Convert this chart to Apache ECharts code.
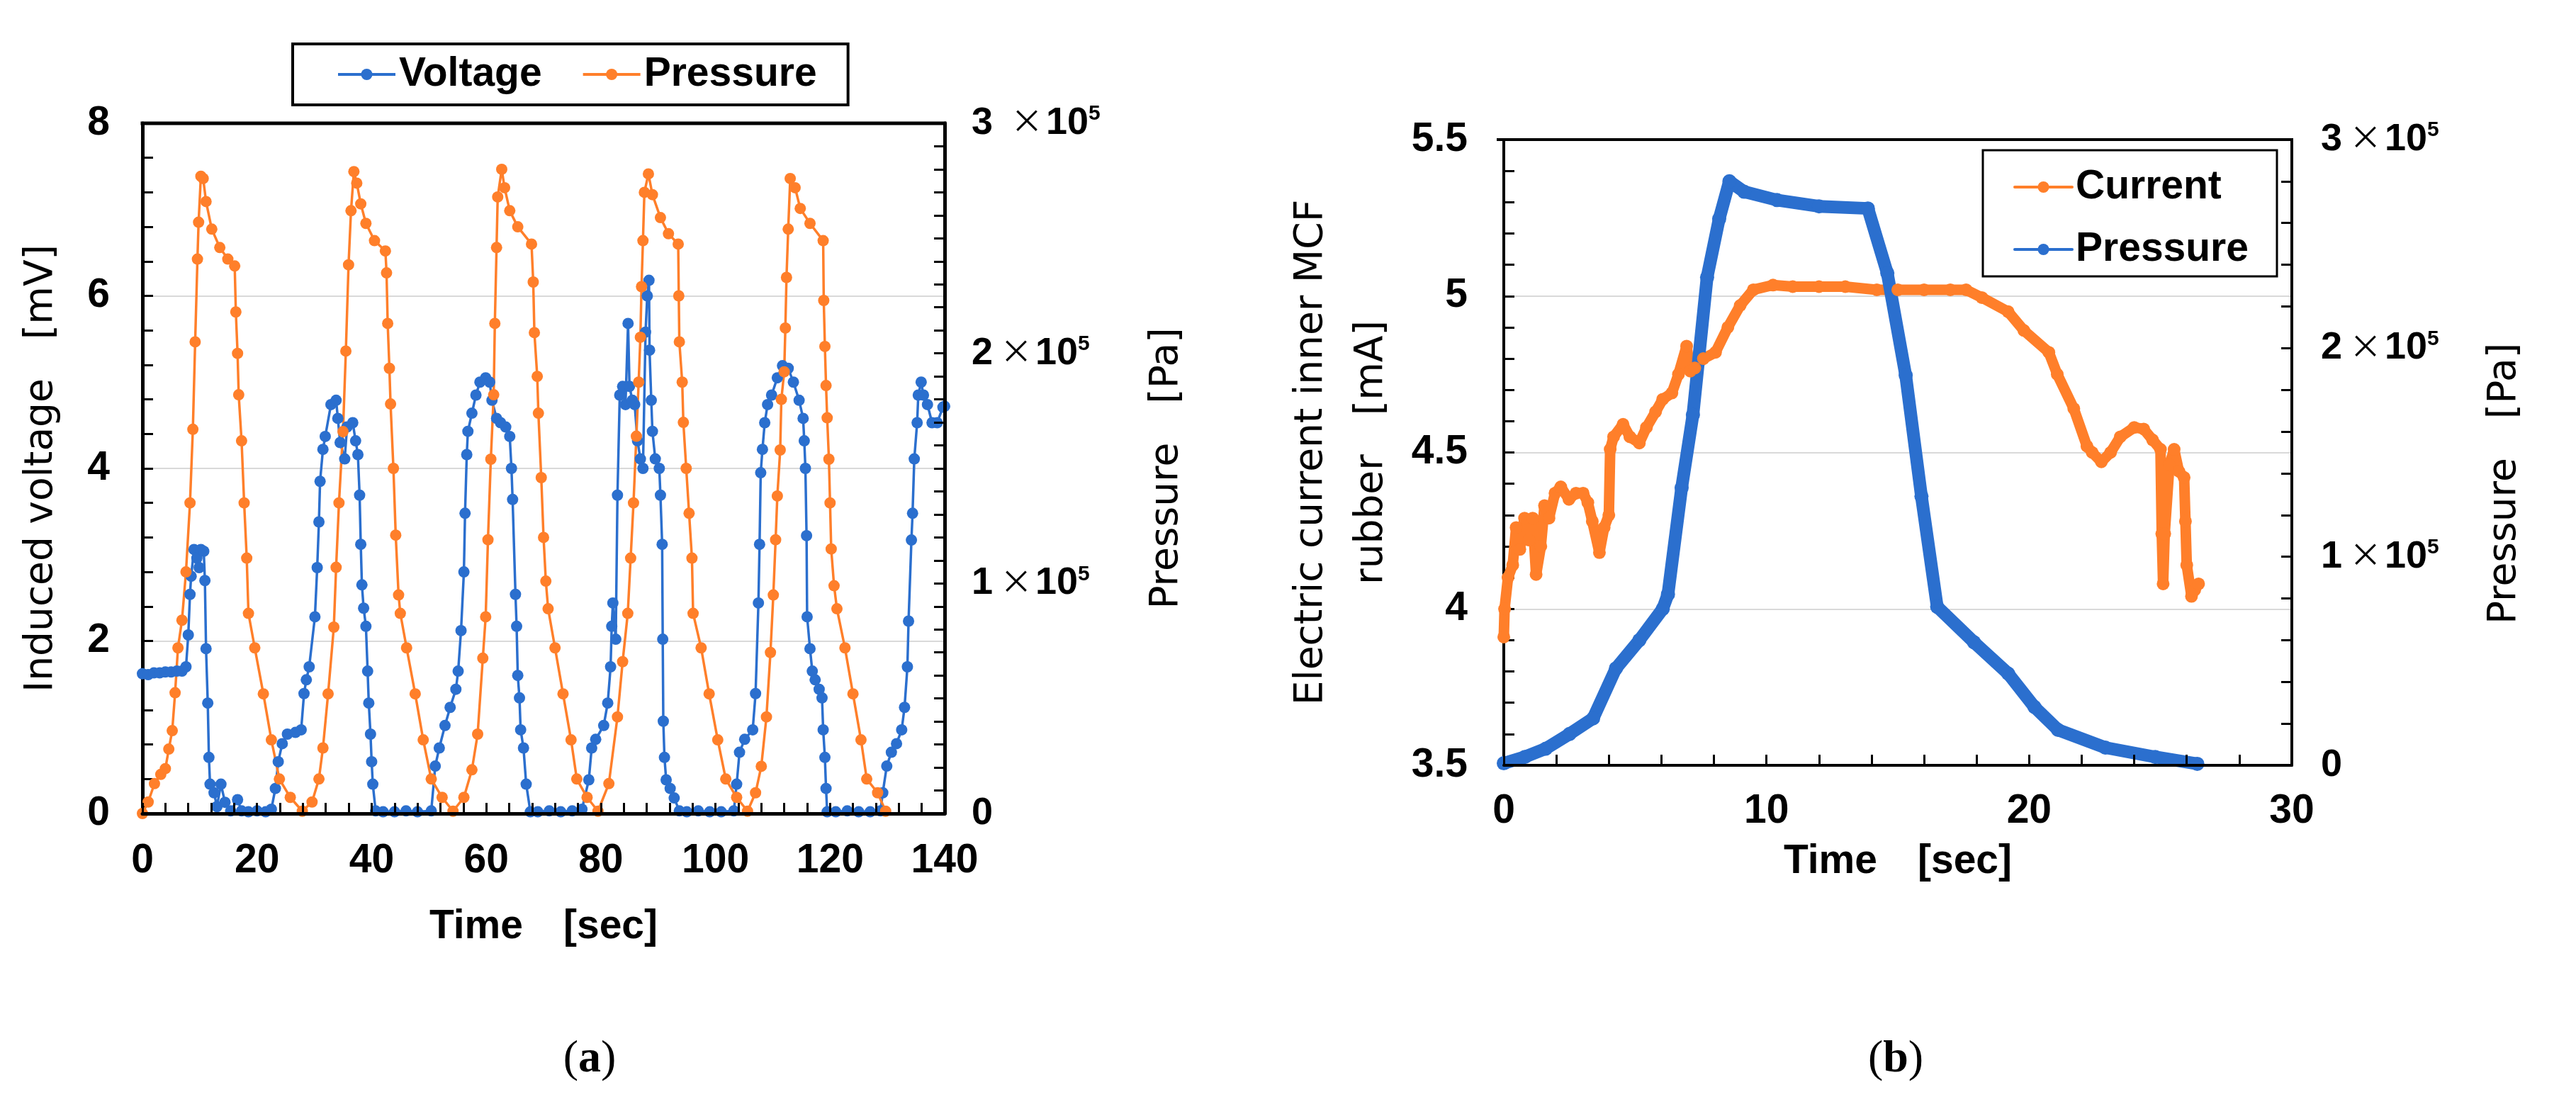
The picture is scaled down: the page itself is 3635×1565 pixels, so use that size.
<!DOCTYPE html>
<html>
<head>
<meta charset="utf-8">
<script src="https://cdn.jsdelivr.net/npm/echarts@6/dist/echarts.min.js"></script>
<style>
html,body{margin:0;padding:0;background:#fff;}
#wrap{position:relative;width:3635px;height:1565px;background:#fff;}
#ca{position:absolute;left:0;top:0;width:1800px;height:1565px;}
#cb{position:absolute;left:1800px;top:0;width:1835px;height:1565px;}
</style>
</head>
<body>
<div id="wrap"><div id="ca"></div><div id="cb"></div></div>
<script>
// ---------- Panel (a) data: [time s, value] ----------
const voltageA = [
[0,1.62],[1,1.61],[2,1.63],[3,1.63],[4,1.64],[5,1.64],[6,1.65],[6.9,1.65],[7.6,1.70],[8.0,2.07],[8.3,2.54],[8.5,2.75],[9.0,3.06],[9.5,2.96],[9.9,2.85],[10.2,3.06],[10.7,3.04],[10.9,2.7],[11.1,1.91],[11.4,1.28],[11.6,0.65],[11.8,0.34],[12.5,0.24],[13,0.08],[13.7,0.34],[14.4,0.13],[15.4,0.03],[16.6,0.16],[17.3,0.03],[18.5,0.02],[20,0.03],[21.5,0.02],[22.5,0.05],
[23.2,0.29],[23.7,0.6],[24.4,0.81],[25.3,0.92],[26.7,0.94],[27.7,0.97],[28.2,1.39],[28.6,1.55],[29.1,1.7],[30.1,2.28],[30.5,2.85],[30.8,3.38],[31.0,3.85],[31.5,4.22],[31.9,4.37],[32.9,4.74],[33.8,4.79],[34.1,4.58],[34.5,4.3],[35.3,4.11],[35.7,4.48],[36.7,4.53],[37.2,4.32],[37.6,4.16],[37.9,3.69],[38.1,3.12],[38.3,2.65],[38.6,2.38],[39.0,2.17],[39.3,1.65],[39.5,1.28],[39.8,0.92],[40.0,0.6],[40.2,0.34],[40.7,0.03],[42,0.02],[44,0.02],[46,0.03],[48,0.02],[50.4,0.03],
[51.1,0.55],[51.8,0.76],[52.8,1.02],[53.7,1.23],[54.7,1.44],[55.1,1.65],[55.6,2.12],[56.1,2.8],[56.3,3.48],[56.6,4.16],[56.8,4.43],[57.5,4.64],[58.2,4.85],[58.9,5.0],[59.9,5.05],[60.6,5.0],[61.0,4.79],[61.8,4.58],[62.5,4.53],[63.4,4.48],[64.1,4.37],[64.4,4.0],[64.6,3.64],[65.1,2.54],[65.3,2.17],[65.5,1.6],[65.8,1.34],[66.0,0.97],[66.5,0.76],[66.97,0.34],[67.7,0.02],[69,0.02],[71,0.03],[73,0.02],[75,0.03],[76.7,0.05],
[77.9,0.39],[78.4,0.76],[79.1,0.86],[80.5,1.02],[81.2,1.28],[81.7,1.7],[81.9,2.17],[82.1,2.44],[82.6,2.02],[82.9,3.69],[83.3,4.85],[83.8,4.95],[84.3,4.74],[84.75,5.68],[85.0,4.95],[85.5,4.79],[85.9,4.74],[86.4,4.32],[86.9,4.11],[87.35,4.0],[87.8,5.58],[88.1,6.0],[88.4,6.18],[88.5,5.37],[88.8,4.79],[89.0,4.43],[89.5,4.11],[90.2,4.0],[90.4,3.69],[90.7,3.12],[90.8,2.02],[90.9,1.07],[91.1,0.65],[91.4,0.39],[92.1,0.29],[92.8,0.18],[93.7,0.03],[95,0.02],[97,0.03],[99,0.02],[101,0.02],[103.2,0.03],
[103.7,0.34],[104.2,0.71],[105.1,0.86],[106.5,0.97],[107,1.39],[107.5,2.44],[107.7,3.12],[107.9,3.95],[108.2,4.22],[108.6,4.53],[109.1,4.74],[109.8,4.85],[110.8,5.05],[111.7,5.19],[112.7,5.16],[113.6,5.0],[114.6,4.79],[115.3,4.58],[115.5,4.32],[115.7,4.0],[115.9,3.22],[116.0,2.28],[116.5,1.91],[116.9,1.65],[117.4,1.55],[118.1,1.44],[118.6,1.34],[118.8,0.97],[119.1,0.65],[119.3,0.29],[119.5,0.02],[121,0.02],[123,0.03],[125,0.02],[127,0.02],[128.8,0.03],
[129.2,0.24],[129.9,0.55],[130.7,0.71],[131.6,0.81],[132.5,0.97],[133,1.23],[133.5,1.7],[133.7,2.23],[134.2,3.17],[134.4,3.48],[134.7,4.11],[135.2,4.53],[135.4,4.85],[135.9,5.0],[136.3,4.85],[137.0,4.74],[137.8,4.53],[138.7,4.53],[139.7,4.71],[140,4.72]
];
// pressure in units of 1e5 Pa
const pressureA = [
[0,0],[1.0,0.05],[2.1,0.13],[3.2,0.17],[4.0,0.195],[4.6,0.28],[5.2,0.36],[5.7,0.525],[6.2,0.72],[6.9,0.84],[7.6,1.05],[8.3,1.35],[8.8,1.67],[9.2,2.05],[9.6,2.41],[9.8,2.57],[10.2,2.77],[10.6,2.76],[11.1,2.66],[12.1,2.54],[13.5,2.46],[14.9,2.41],[16.1,2.38],[16.3,2.18],[16.6,2.0],[16.8,1.82],[17.3,1.62],[17.75,1.35],[18.2,1.11],[18.5,0.87],[19.6,0.72],[21.1,0.52],[22.5,0.32],[23.9,0.15],[25.8,0.07],[27.9,0.01],
[29.6,0.05],[30.8,0.15],[31.5,0.285],[32.4,0.52],[33.4,0.81],[33.8,1.07],[34.3,1.35],[35.0,1.66],[35.5,2.01],[35.97,2.385],[36.4,2.62],[36.9,2.79],[37.4,2.74],[38.1,2.65],[39.0,2.565],[40.5,2.49],[42.4,2.445],[42.6,2.35],[42.8,2.13],[43.1,1.935],[43.3,1.78],[43.8,1.5],[44.2,1.21],[44.7,0.95],[45.0,0.87],[46.1,0.72],[47.6,0.52],[49.0,0.32],[50.4,0.15],[52.3,0.07],[54.2,0.01],
[56.1,0.07],[57.5,0.19],[58.5,0.345],[59.4,0.675],[59.9,0.855],[60.3,1.19],[60.8,1.54],[61.3,1.82],[61.5,2.13],[61.8,2.46],[62.0,2.68],[62.7,2.80],[63.2,2.72],[64.1,2.62],[65.5,2.55],[67.9,2.475],[68.2,2.31],[68.4,2.09],[68.9,1.90],[69.1,1.74],[69.6,1.46],[70.0,1.2],[70.4,1.01],[70.8,0.89],[72,0.72],[73.4,0.52],[74.8,0.32],[75.8,0.15],[77.6,0.07],[79.5,0.01],
[81.4,0.13],[82.9,0.42],[83.8,0.66],[84.7,0.87],[85.2,1.11],[85.7,1.35],[86.2,1.64],[86.6,1.875],[86.9,2.07],[87.1,2.29],[87.35,2.49],[87.6,2.70],[88.3,2.78],[89.0,2.69],[90.4,2.59],[91.8,2.52],[93.5,2.475],[93.6,2.25],[93.7,2.05],[94.2,1.875],[94.4,1.70],[94.9,1.5],[95.4,1.305],[95.9,1.11],[96.1,0.87],[97.5,0.72],[98.9,0.52],[100.4,0.32],[101.8,0.15],[103.7,0.07],[105.6,0.01],
[107,0.09],[108,0.205],[108.9,0.42],[109.6,0.70],[110.1,0.95],[110.5,1.19],[110.8,1.38],[111.3,1.58],[111.5,1.80],[112,1.92],[112.2,2.11],[112.4,2.33],[112.7,2.54],[113.05,2.76],[113.9,2.72],[114.8,2.63],[116.5,2.565],[118.8,2.49],[118.9,2.23],[119.1,2.03],[119.3,1.86],[119.5,1.72],[119.8,1.54],[120,1.35],[120.2,1.15],[120.7,0.99],[121.2,0.89],[122.6,0.72],[124.0,0.52],[125.4,0.32],[126.4,0.15],[128.3,0.09],[129.7,0.01]
];
// ---------- Panel (b) data ----------
const currentB = [
[0,3.91],[0.03,4.0],[0.16,4.1],[0.34,4.14],[0.47,4.26],[0.61,4.19],[0.79,4.29],[0.96,4.22],[1.1,4.29],[1.23,4.11],[1.41,4.2],[1.55,4.33],[1.72,4.29],[1.95,4.37],[2.17,4.39],[2.48,4.35],[2.75,4.37],[3.02,4.37],[3.2,4.34],[3.37,4.28],[3.64,4.18],[3.82,4.26],[4.0,4.3],[4.05,4.51],[4.18,4.55],[4.54,4.59],[4.8,4.55],[5.16,4.53],[5.43,4.58],[5.78,4.63],[6.05,4.67],[6.4,4.69],[6.65,4.75],[6.96,4.84],[7.1,4.76],[7.27,4.77],[7.6,4.8],[8.06,4.82],[8.53,4.9],[9.0,4.97],[9.5,5.02],[10.25,5.035],[11,5.03],[12,5.03],[13,5.03],[14.2,5.02],[15,5.02],[16,5.02],[17,5.02],[17.6,5.02],[18.2,4.995],[19.2,4.95],[19.8,4.89],[20.75,4.82],[21.07,4.75],[21.7,4.64],[22.2,4.52],[22.4,4.5],[22.75,4.47],[23.1,4.5],[23.47,4.55],[24.0,4.58],[24.36,4.575],[24.7,4.54],[25.0,4.51],[25.05,4.24],[25.1,4.08],[25.16,4.24],[25.34,4.46],[25.52,4.51],[25.7,4.44],[25.9,4.42],[25.95,4.28],[26.0,4.14],[26.18,4.04],[26.3,4.06],[26.45,4.08]
];
// pressure in units of 1e5 Pa
const pressureB = [
[0,0.01],[0.8,0.04],[1.6,0.08],[2.5,0.15],[3.4,0.225],[4.27,0.465],[5.16,0.6],[6.05,0.75],[6.25,0.82],[6.77,1.33],[7.2,1.68],[7.74,2.34],[8.2,2.62],[8.59,2.8],[9.15,2.75],[10.4,2.71],[12,2.68],[13.86,2.67],[14.6,2.36],[15.3,1.87],[15.9,1.29],[16.5,0.76],[17.9,0.59],[19.2,0.44],[20.2,0.28],[21.1,0.17],[22.9,0.085],[24.8,0.04],[26.4,0.007]
];
const ticksA = {x:[0,140,20], yL:[0,8,2], yR:[0,3,1]};
const ticksB = {x:[0,30,10], yL:[3.5,5.5,0.5], yR:[0,3,1]};

const BLUE = '#2b6fce', ORANGE = '#ff7f2a';
const NUMF = "'Liberation Sans', Arial, sans-serif";
const NAMEF = "'DejaVu Sans', 'Liberation Sans', sans-serif";
const CJK = "'Noto Sans CJK JP', sans-serif";
const GRID_A = {left:201,top:174,width:1132,height:974};
const GRID_B = {left:314,top:197,width:1120,height:883};

function richPow(){
  return {
    n:{fontSize:54,fontWeight:'bold',fontFamily:NUMF,color:'#000'},
    x:{fontSize:46,fontWeight:'normal',fontFamily:CJK,color:'#000',padding:[0,4,8,10]},
    s:{fontSize:30,fontWeight:'bold',fontFamily:NUMF,color:'#000',padding:[0,0,26,0]}
  };
}
function powFmt(spaceFor3){
  return function(v){
    if (v === 0) return '{n|0}';
    return '{n|' + v + (spaceFor3 && v===3 ? ' ' : '') + '}{x|×}{n|10}{s|5}';
  };
}
function tickStyle(){ return {show:true,inside:true,length:15,lineStyle:{color:'#000',width:3}}; }
function minor(n){ return {show:true,splitNumber:n,length:15,lineStyle:{color:'#000',width:3}}; }
const numLabel = (m)=>({margin:m,fontSize:57,fontWeight:'bold',fontFamily:NUMF,color:'#000'});
const nameStyle = {fontSize:55,fontFamily:NAMEF,color:'#000',fontWeight:'normal'};
const boldName = {fontSize:57,fontFamily:NUMF,color:'#000',fontWeight:'bold'};

function labelGraphic(x, letter){
  return {type:'text',x:x,y:1495,style:{text:'{p|(}{b|'+letter+'}{p|)}',align:'center',verticalAlign:'middle',
    rich:{p:{fontSize:64,fontFamily:"'Liberation Serif', serif",color:'#000'},b:{fontSize:64,fontWeight:'bold',fontFamily:"'Liberation Serif', serif",color:'#000'}}}};
}
// top edge of the plot frame (filled bar along the grid's top edge)
function topBar(g, w){
  return {type:'rect',z:100,silent:true,
    shape:{x:g.left - w/2, y:g.top - w/2, width:g.width + w, height:w},
    style:{fill:'#000'}};
}

// ---------------- Chart A ----------------
const ca = echarts.init(document.getElementById('ca'), null, {renderer:'canvas'});
ca.setOption({
  backgroundColor:'#fff',
  animation:false,
  grid:Object.assign({show:false},GRID_A),
  legend:{
    left:413, top:62, orient:'horizontal',
    padding:[13,44,13,62], itemGap:56, itemWidth:81, itemHeight:20,
    borderColor:'#000', borderWidth:4, backgroundColor:'#fff',
    lineStyle:{width:4},
    textStyle:{fontSize:57,fontWeight:'bold',fontFamily:NUMF,color:'#000',lineHeight:60},
    data:['Voltage','Pressure']
  },
  xAxis:{type:'value',min:ticksA.x[0],max:ticksA.x[1],interval:ticksA.x[2],z:20,
    axisLine:{show:true,onZero:false,lineStyle:{color:'#000',width:5}},
    axisTick:tickStyle(), minorTick:minor(5), splitLine:{show:false},
    axisLabel:numLabel(39),
    name:'Time\u3000[sec]', nameLocation:'middle', nameGap:132, nameTextStyle:boldName},
  yAxis:[
    {type:'value',min:ticksA.yL[0],max:ticksA.yL[1],interval:ticksA.yL[2],position:'left',
     axisLine:{show:true,onZero:false,lineStyle:{color:'#000',width:5}},
     axisTick:tickStyle(), minorTick:minor(5),
     splitLine:{show:true,lineStyle:{color:'#d9d9d9',width:2}},
     axisLabel:numLabel(46),
     name:'Induced voltage\u3000[mV]', nameLocation:'middle', nameGap:115, nameTextStyle:nameStyle},
    {type:'value',min:ticksA.yR[0],max:ticksA.yR[1],interval:ticksA.yR[2],position:'right',z:20,
     axisLine:{show:true,onZero:false,lineStyle:{color:'#000',width:5}},
     axisTick:tickStyle(), minorTick:minor(10), splitLine:{show:false},
     axisLabel:{margin:38,formatter:powFmt(true),rich:richPow(),align:'left'},
     name:'Pressure\u3000[Pa]', nameLocation:'middle', nameGap:286, nameTextStyle:nameStyle}
  ],
  graphic:{elements:[labelGraphic(832,'a'), topBar(GRID_A,5)]},
  series:[
    {name:'Voltage',type:'line',xAxisIndex:0,yAxisIndex:0,data:voltageA,
     symbol:'circle',symbolSize:16,showAllSymbol:true,
     lineStyle:{color:BLUE,width:3.5},itemStyle:{color:BLUE}},
    {name:'Pressure',type:'line',xAxisIndex:0,yAxisIndex:1,data:pressureA,
     symbol:'circle',symbolSize:16,showAllSymbol:true,
     lineStyle:{color:ORANGE,width:3.5},itemStyle:{color:ORANGE}}
  ]
});

// ---------------- Chart B ----------------
const cb = echarts.init(document.getElementById('cb'), null, {renderer:'canvas'});
cb.setOption({
  backgroundColor:'#fff',
  animation:false,
  grid:Object.assign({show:false},GRID_B),
  legend:{
    left:998, top:212, orient:'vertical',
    padding:[22,40,8,43], itemGap:28, itemWidth:81, itemHeight:20,
    borderColor:'#000', borderWidth:3, backgroundColor:'#fff',
    lineStyle:{width:4},
    textStyle:{fontSize:57,fontWeight:'bold',fontFamily:NUMF,color:'#000',lineHeight:60},
    data:['Current','Pressure']
  },
  xAxis:{type:'value',min:ticksB.x[0],max:ticksB.x[1],interval:ticksB.x[2],z:20,
    axisLine:{show:true,onZero:false,lineStyle:{color:'#000',width:4}},
    axisTick:tickStyle(), minorTick:minor(5), splitLine:{show:false},
    axisLabel:numLabel(37),
    name:'Time\u3000[sec]', nameLocation:'middle', nameGap:108, nameTextStyle:boldName},
  yAxis:[
    {type:'value',min:ticksB.yL[0],max:ticksB.yL[1],interval:ticksB.yL[2],position:'left',
     axisLine:{show:true,onZero:false,lineStyle:{color:'#000',width:4}},
     axisTick:tickStyle(), minorTick:minor(5),
     splitLine:{show:true,lineStyle:{color:'#d9d9d9',width:2}},
     axisLabel:numLabel(51),
     name:'Electric current inner MCF\nrubber\u3000[mA]', nameLocation:'middle', nameGap:144,
     nameTextStyle:Object.assign({},nameStyle,{lineHeight:85})},
    {type:'value',min:ticksB.yR[0],max:ticksB.yR[1],interval:ticksB.yR[2],position:'right',z:20,
     axisLine:{show:true,onZero:false,lineStyle:{color:'#000',width:4}},
     axisTick:tickStyle(), minorTick:minor(5), splitLine:{show:false},
     axisLabel:{margin:41,formatter:powFmt(false),rich:richPow(),align:'left'},
     name:'Pressure\u3000[Pa]', nameLocation:'middle', nameGap:273,
     nameTextStyle:Object.assign({},nameStyle,{padding:[0,88,0,0]})}
  ],
  graphic:{elements:[labelGraphic(875,'b'), topBar(GRID_B,4)]},
  series:[
    {name:'Current',type:'line',xAxisIndex:0,yAxisIndex:0,data:currentB,
     symbol:'circle',symbolSize:18,showAllSymbol:true,
     lineStyle:{color:ORANGE,width:15,cap:'round',join:'round'},itemStyle:{color:ORANGE}},
    {name:'Pressure',type:'line',xAxisIndex:0,yAxisIndex:1,data:pressureB,
     symbol:'circle',symbolSize:20,showAllSymbol:true,
     lineStyle:{color:BLUE,width:18,cap:'round',join:'round'},itemStyle:{color:BLUE}}
  ]
});
</script>
</body>
</html>
